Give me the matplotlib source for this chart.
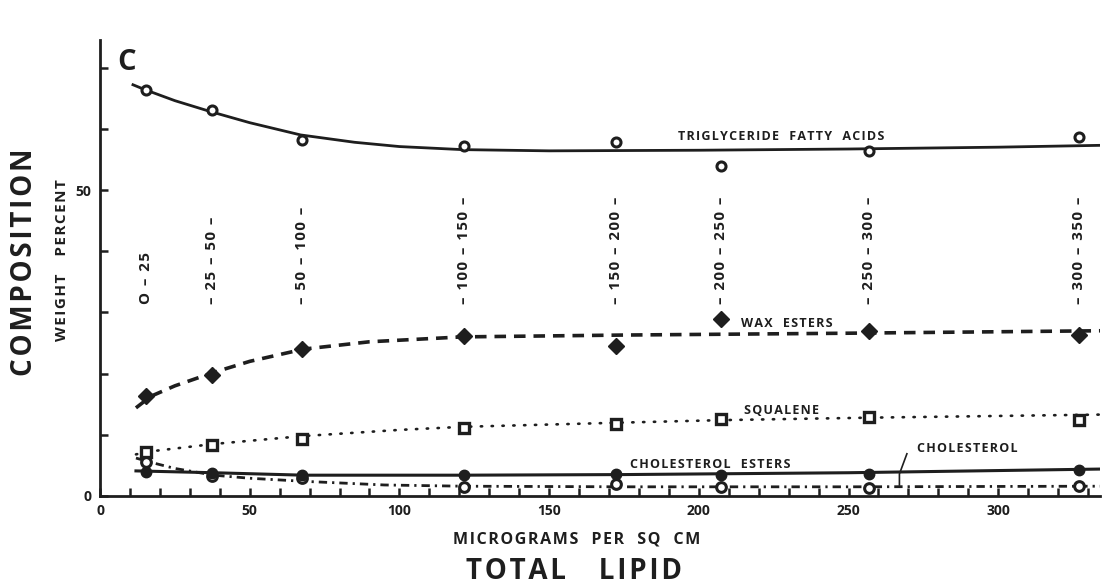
import matplotlib.pyplot as plt

plt.rcParams['font.family'] = ['Open Sans', 'DejaVu Sans']
INK = '#1e1e1e'

# sampling points (micrograms per sq cm) and the bin labels written over them
lipid_x = [15.5, 37.5, 67.5, 121.5, 172.5, 207.5, 257, 327]
bin_labels = ['O \u2013 25', '\u2013 25 \u2013 50 \u2013', '\u2013 50 \u2013 100 \u2013',
              '\u2013 100 \u2013 150 \u2013', '\u2013 150 \u2013 200 \u2013',
              '\u2013 200 \u2013 250 \u2013', '\u2013 250 \u2013 300 \u2013',
              '\u2013 300 \u2013 350 \u2013']

# measured weight percent
triglyceride = [66.3, 63.1, 58.2, 57.2, 57.8, 53.9, 56.4, 58.7]
wax_esters = [16.3, 19.8, 24.0, 26.1, 24.5, 28.9, 27.0, 26.3]
squalene = [7.2, 8.3, 9.3, 11.1, 11.8, 12.6, 12.9, 12.4]
chol_esters = [3.9, 3.7, 3.5, 3.4, 3.6, 3.4, 3.6, 4.2]
cholesterol = [5.6, 3.3, 2.9, 1.5, 1.9, 1.5, 1.3, 1.6]

# hand-fitted curves
tg_fit_x = [11, 15, 25, 37, 50, 67, 85, 100, 121, 150, 200, 250, 300, 334]
tg_fit_y = [67.2, 66.4, 64.6, 62.8, 61.0, 59.0, 57.8, 57.1, 56.6, 56.4, 56.5, 56.7, 57.0, 57.3]
wax_fit_x = [12, 17, 25, 38, 50, 68, 90, 121, 175, 250, 334]
wax_fit_y = [14.4, 16.3, 18.0, 20.2, 22.0, 24.0, 25.2, 26.0, 26.3, 26.6, 27.0]
sq_fit_x = [12, 17, 38, 68, 100, 121, 175, 208, 257, 334]
sq_fit_y = [6.8, 7.3, 8.5, 9.8, 10.8, 11.3, 12.0, 12.4, 12.8, 13.3]
ce_fit_x = [12, 38, 68, 121, 175, 250, 334]
ce_fit_y = [4.1, 3.8, 3.4, 3.4, 3.5, 3.8, 4.4]
ch_fit_x = [12, 17, 25, 38, 50, 68, 95, 121, 175, 250, 334]
ch_fit_y = [6.2, 5.5, 4.5, 3.4, 2.9, 2.4, 1.8, 1.6, 1.5, 1.5, 1.6]


def spaced(s):
    # stencil-style lettering: a hair space between letters
    return '\u200a'.join(s)


fig = plt.figure(figsize=(11.09, 5.86), dpi=100)
ax = fig.add_axes([0.0902, 0.1536, 0.9017, 0.778])
ax.set_xlim(0, 334)
ax.set_ylim(0, 74.5)

ax.plot(tg_fit_x, tg_fit_y, '-', color=INK, lw=2.0)
ax.plot(lipid_x, triglyceride, 'o', ms=6.5, mfc='white', mec=INK, mew=2.2, ls='none')

ax.plot(wax_fit_x, wax_fit_y, color=INK, lw=2.6, dashes=(3.2, 2.2))
ax.plot(lipid_x, wax_esters, 'D', ms=8, color=INK, ls='none')

ax.plot(sq_fit_x, sq_fit_y, color=INK, lw=1.9, dashes=(0.5, 3.6), dash_capstyle='round')
ax.plot(lipid_x, squalene, 's', ms=7.5, mfc='white', mec=INK, mew=2.4, ls='none')

ax.plot(ch_fit_x, ch_fit_y, color=INK, lw=2.0, dashes=(3.0, 1.8, 0.8, 1.8))
ax.plot(lipid_x, cholesterol, 'o', ms=7, mfc='white', mec=INK, mew=2.2, ls='none')

ax.plot(ce_fit_x, ce_fit_y, '-', color=INK, lw=2.2)
ax.plot(lipid_x, chol_esters, 'o', ms=7.5, color=INK, ls='none')

# bin labels
for x, lab in zip(lipid_x, bin_labels):
    ax.text(x, 31.4, spaced(lab), rotation=90, ha='center', va='bottom', fontsize=10.8,
            fontweight='bold', color=INK)

lab_kw = dict(fontsize=9, fontweight='bold', color=INK, va='center', ha='left')
ax.text(193, 58.7, spaced('TRIGLYCERIDE  FATTY  ACIDS'), **lab_kw)
ax.text(214, 28.2, spaced('WAX  ESTERS'), **lab_kw)
ax.text(215, 14.0, spaced('SQUALENE'), **lab_kw)
ax.text(177, 5.1, spaced('CHOLESTEROL  ESTERS'), **lab_kw)
ax.text(273, 7.8, spaced('CHOLESTEROL'), **lab_kw)
ax.plot([269.5, 267.0, 267.0], [6.9, 3.6, 1.8], '-', color=INK, lw=1.2)

ax.text(5.8, 70.8, 'C', fontsize=21, fontweight='bold', color=INK, ha='left', va='center')

for side in ['top', 'right']:
    ax.spines[side].set_visible(False)
for side in ['left', 'bottom']:
    ax.spines[side].set_linewidth(2.0)
    ax.spines[side].set_color(INK)

ax.set_xticks(range(0, 331, 10))
ax.set_xticklabels([str(v) if v % 50 == 0 else '' for v in range(0, 331, 10)])
ax.set_yticks(range(0, 71, 10))
ax.set_yticklabels([str(v) if v % 50 == 0 else '' for v in range(0, 71, 10)])
ax.tick_params(direction='in', length=6, width=1.8, color=INK, labelsize=10,
               labelcolor=INK, pad=6)
for t in ax.get_xticklabels() + ax.get_yticklabels():
    t.set_fontweight('bold')

fig.text(0.022, 0.553, spaced('COMPOSITION'), rotation=90, ha='center', va='center',
         fontsize=20, fontweight='bold', color=INK)
fig.text(0.056, 0.556, spaced('WEIGHT   PERCENT'), rotation=90, ha='center', va='center',
         fontsize=11, fontweight='bold', color=INK)
fig.text(0.520, 0.080, spaced('MICROGRAMS  PER  SQ  CM'), ha='center', va='center',
         fontsize=11.5, fontweight='bold', color=INK)
fig.text(0.518, 0.024, spaced('TOTAL   LIPID'), ha='center', va='center',
         fontsize=20, fontweight='bold', color=INK)

fig.savefig('out.png', dpi=100)
